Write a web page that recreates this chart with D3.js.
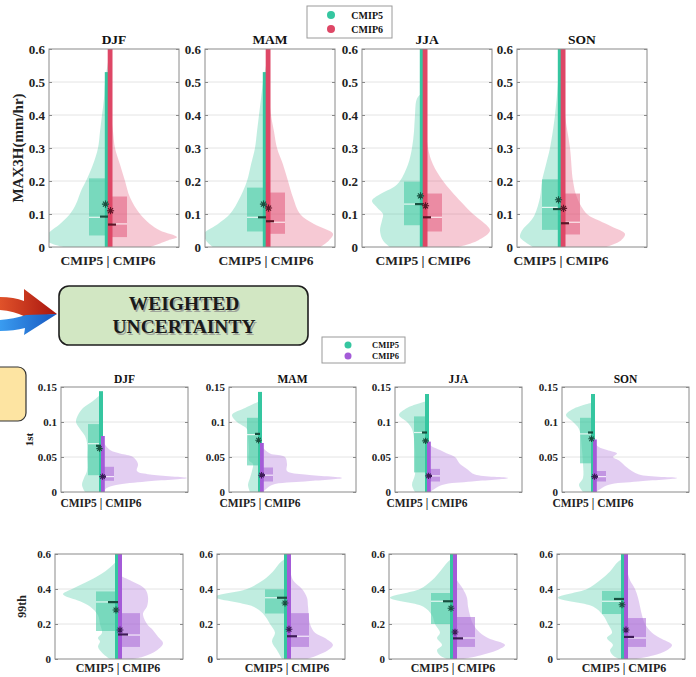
<!DOCTYPE html>
<html>
<head>
<meta charset="utf-8">
<script src="https://cdn.jsdelivr.net/npm/d3@7"></script>
<style>
  body { margin: 0; background: #fff; }
  svg { display: block; }
  text { font-family: "Liberation Serif", "Times New Roman", serif; font-weight: bold; }
</style>
</head>
<body>
<svg id="fig" width="696" height="677"></svg>
<script>
// ---- data ----------------------------------------------------------------
const seasons = ["DJF", "MAM", "JJA", "SON"];
const models = ["CMIP5", "CMIP6"];

// density profiles, [value, density] per season
const max3hCmip5 = [
  [[0,4.5],[0.02,6.2],[0.04,6.0],[0.07,4.8],[0.1,3.8],[0.13,3.2],[0.17,2.7],[0.2,2.2],[0.25,1.5],[0.3,1.0],[0.35,0.8],[0.4,0.6],[0.45,0.4],[0.5,0.3],[0.56,0]],
  [[0,5.3],[0.02,6.0],[0.04,6.2],[0.07,4.8],[0.1,3.6],[0.15,2.6],[0.2,1.9],[0.25,1.5],[0.3,1.1],[0.35,0.9],[0.4,0.7],[0.45,0.5],[0.5,0.3],[0.55,0]],
  [[0,3.3],[0.02,4.0],[0.05,4.3],[0.08,4.1],[0.1,4.0],[0.12,4.6],[0.14,5.1],[0.16,4.3],[0.18,3.0],[0.2,2.3],[0.25,1.5],[0.3,1.1],[0.35,0.9],[0.4,0.8],[0.45,0.6],[0.47,0]],
  [[0,2.8],[0.02,3.8],[0.03,4.1],[0.05,3.9],[0.08,3.0],[0.1,2.6],[0.15,2.1],[0.2,1.9],[0.25,1.5],[0.3,1.1],[0.4,0.6],[0.5,0.3],[0.6,0.1]]
];
const max3hCmip6 = [
  [[0,4.2],[0.02,6.0],[0.03,6.9],[0.05,5.2],[0.07,4.2],[0.1,3.2],[0.15,2.2],[0.2,1.7],[0.25,1.2],[0.3,0.7],[0.35,0.5],[0.4,0.3],[0.5,0.15],[0.6,0.1]],
  [[0,5.4],[0.02,6.3],[0.04,6.7],[0.07,4.8],[0.1,3.4],[0.15,2.7],[0.2,2.2],[0.25,1.7],[0.3,1.1],[0.35,0.8],[0.4,0.5],[0.5,0.2],[0.6,0.1]],
  [[0,3.5],[0.02,5.5],[0.05,6.7],[0.08,5.8],[0.1,5.0],[0.15,3.4],[0.2,2.0],[0.25,1.0],[0.3,0.5],[0.4,0.2],[0.6,0.1]],
  [[0,4.5],[0.02,6.0],[0.04,6.4],[0.06,5.2],[0.08,3.8],[0.1,2.6],[0.15,1.6],[0.2,1.2],[0.3,0.9],[0.4,0.4],[0.5,0.2],[0.6,0.1]]
];
const p1Cmip5 = [
  [[0,1.6],[0.01,1.9],[0.02,1.7],[0.03,1.4],[0.05,1.4],[0.07,1.4],[0.08,1.6],[0.09,2.1],[0.1,2.5],[0.11,2.3],[0.12,1.8],[0.13,0.8],[0.14,0]],
  [[0,1.0],[0.01,1.2],[0.02,1.0],[0.03,0.8],[0.04,0.7],[0.045,1.1],[0.06,1.1],[0.08,1.2],[0.09,1.3],[0.1,2.3],[0.11,2.8],[0.12,1.5],[0.13,0]],
  [[0,1.2],[0.01,1.5],[0.025,1.2],[0.04,1.2],[0.06,1.2],[0.09,1.5],[0.1,2.0],[0.11,2.8],[0.12,2.0],[0.13,0]],
  [[0,1.0],[0.01,1.4],[0.02,1.0],[0.04,1.0],[0.06,1.1],[0.09,1.4],[0.1,2.0],[0.11,2.7],[0.12,1.8],[0.128,0]]
];
const p1Cmip6 = [
  [[0,0.3],[0.005,0.5],[0.01,1.5],[0.015,4.5],[0.02,8.6],[0.025,4.9],[0.03,3.6],[0.04,3.7],[0.05,3.2],[0.055,1.9],[0.06,0.9],[0.07,0.3],[0.08,0]],
  [[0,0.3],[0.01,1.2],[0.015,4.5],[0.02,8.2],[0.025,4.5],[0.03,2.7],[0.04,2.7],[0.05,2.5],[0.055,1.0],[0.065,0.2],[0.07,0]],
  [[0,0.3],[0.01,1.5],[0.015,4.5],[0.02,8.1],[0.025,4.8],[0.033,4.0],[0.04,3.3],[0.05,2.8],[0.055,2.0],[0.06,1.3],[0.065,0.5],[0.072,0]],
  [[0,0.3],[0.01,1.5],[0.015,4.5],[0.02,8.4],[0.025,4.6],[0.035,3.4],[0.045,2.6],[0.05,2.0],[0.055,2.4],[0.06,1.4],[0.065,0.5],[0.075,0]]
];
const p99Cmip5 = [
  [[0,0.8],[0.03,1.5],[0.07,2.0],[0.1,1.8],[0.12,2.0],[0.15,1.6],[0.2,1.8],[0.25,2.0],[0.3,2.8],[0.33,3.8],[0.37,5.5],[0.4,4.6],[0.45,2.8],[0.5,1.3],[0.55,0.3],[0.57,0]],
  [[0,0.5],[0.05,1.0],[0.1,1.5],[0.15,1.2],[0.2,1.7],[0.26,2.4],[0.3,3.4],[0.355,7.2],[0.4,4.0],[0.45,2.4],[0.5,1.4],[0.55,0.7],[0.58,0]],
  [[0,0.6],[0.02,1.3],[0.05,1.6],[0.08,1.1],[0.12,1.6],[0.15,1.3],[0.2,1.8],[0.25,2.1],[0.3,3.0],[0.35,6.3],[0.4,3.3],[0.45,2.1],[0.5,1.3],[0.55,0.6],[0.58,0]],
  [[0,0.5],[0.02,1.1],[0.05,1.4],[0.08,1.1],[0.12,1.7],[0.15,1.2],[0.2,1.6],[0.25,2.1],[0.3,3.1],[0.35,6.6],[0.4,3.7],[0.45,2.4],[0.5,1.4],[0.55,0.7],[0.58,0]]
];
const p99Cmip6 = [
  [[0,1.5],[0.013,2.5],[0.05,3.9],[0.09,4.5],[0.127,4.0],[0.165,3.5],[0.2,2.9],[0.26,2.5],[0.3,2.9],[0.355,3.0],[0.4,2.7],[0.45,1.2],[0.48,0]],
  [[0,2.0],[0.02,3.0],[0.05,4.1],[0.08,4.6],[0.12,3.8],[0.15,2.8],[0.2,2.3],[0.3,2.1],[0.35,2.0],[0.4,1.5],[0.45,0.6],[0.5,0.3],[0.52,0]],
  [[0,1.0],[0.02,2.7],[0.05,4.4],[0.08,5.2],[0.12,3.5],[0.15,2.7],[0.2,2.0],[0.25,1.7],[0.3,1.5],[0.35,1.4],[0.4,1.0],[0.45,0.4],[0.5,0]],
  [[0,1.2],[0.02,2.9],[0.05,4.3],[0.08,4.8],[0.12,3.6],[0.15,2.8],[0.2,2.1],[0.25,1.8],[0.3,1.6],[0.35,1.4],[0.4,1.1],[0.45,0.6],[0.5,0.3],[0.52,0]]
];

// summary stats: [q1, median, q3, weighted mean, mean, range top]
const max3hStats5 = [[0.035,0.09,0.208,0.092,0.13,0.53],[0.047,0.09,0.18,0.09,0.13,0.53],[0.066,0.13,0.198,0.13,0.155,0.6],[0.052,0.12,0.205,0.115,0.143,0.6]];
const max3hStats6 = [[0.03,0.07,0.153,0.068,0.11,0.6],[0.04,0.075,0.165,0.078,0.118,0.6],[0.047,0.09,0.162,0.09,0.125,0.6],[0.038,0.075,0.162,0.072,0.117,0.6]];
const p1Stats5 = [[0.024,0.069,0.097,0.066,0.062,0.144],[0.038,0.082,0.106,0.083,0.074,0.143],[0.028,0.085,0.108,0.085,0.073,0.14],[0.041,0.083,0.106,0.085,0.076,0.14]];
const p1Stats6 = [[0.016,0.022,0.036,0.022,0.022,0.08],[0.015,0.024,0.035,0.024,0.024,0.07],[0.015,0.023,0.033,0.023,0.023,0.072],[0.015,0.022,0.03,0.022,0.022,0.075]];
const p99Stats5 = [[0.16,0.326,0.386,0.325,0.28,0.6],[0.26,0.35,0.398,0.35,0.32,0.6],[0.2,0.33,0.377,0.33,0.29,0.6],[0.257,0.33,0.389,0.343,0.31,0.6]];
const p99Stats6 = [[0.069,0.137,0.262,0.14,0.166,0.6],[0.069,0.13,0.262,0.13,0.17,0.6],[0.069,0.12,0.24,0.118,0.154,0.6],[0.069,0.12,0.234,0.126,0.166,0.6]];

// x limits (density units) per panel
const max3hXlims = [[-5.9,7.1],[-6.1,6.9],[-6.1,6.9],[-4.4,8.6]];
const p1Xlims = [[-4.0,8.7],[-3.1,9.6],[-3.2,9.5],[-3.1,9.6]];
const p99Xlims = [[-6.3,6.5],[-7.0,5.8],[-6.4,6.4],[-6.7,6.1]];

const max3hTicks = [0, 0.1, 0.2, 0.3, 0.4, 0.5, 0.6];
const p1Ticks = [0, 0.05, 0.1, 0.15];
const p99Ticks = [0, 0.2, 0.4, 0.6];

// ---- colours -------------------------------------------------------------
const green = { line: "#35c6a0", fill: "#3cc8a0", dark: "#17503f" };
const red = { line: "#de4766", fill: "#e2577a", dark: "#5c1526" };
const purple = { line: "#a45bd8", fill: "#a866d6", dark: "#3d1a57" };

const svg = d3.select("#fig");
const defs = svg.append("defs");

// ---- a row of split violins ------------------------------------------------
function drawRow(row) {
  row.lefts.forEach((left, i) => {
    const x = d3.scaleLinear().domain(row.xlims[i]).range([left, left + row.width]);
    const y = d3.scaleLinear().domain([0, row.ymax]).range([row.bottom, row.top]);
    const x0 = x(0);
    const g = svg.append("g");
    const clipId = `clip-${row.id}-${i}`;
    defs.append("clipPath").attr("id", clipId)
      .append("rect")
      .attr("x", left).attr("y", row.top)
      .attr("width", row.width).attr("height", row.bottom - row.top);

    // grid
    g.append("g").selectAll("line")
      .data(row.ticks.filter(t => t > 0 && t < row.ymax))
      .enter().append("line")
      .attr("x1", left).attr("x2", left + row.width)
      .attr("y1", d => y(d)).attr("y2", d => y(d))
      .attr("stroke", "#e4e4e4").attr("stroke-width", 1);

    const body = g.append("g").attr("clip-path", `url(#${clipId})`);
    const sides = [
      { dens: row.dens5[i], st: row.stats5[i], col: row.c5, dir: -1 },
      { dens: row.dens6[i], st: row.stats6[i], col: row.c6, dir: 1 }
    ];

    // violins
    sides.forEach(s => {
      const area = d3.area()
        .y(d => y(d[0]))
        .x0(x0)
        .x1(d => x(s.dir * d[1]))
        .curve(d3.curveCatmullRom.alpha(0.5));
      body.append("path")
        .attr("d", area(s.dens))
        .attr("fill", s.col.fill)
        .attr("fill-opacity", 0.32);
    });

    // boxes + median
    sides.forEach(s => {
      const bx = s.dir < 0 ? x(-row.boxW) : x0;
      const bw = x(row.boxW) - x0;
      body.append("rect")
        .attr("x", bx).attr("width", bw)
        .attr("y", y(s.st[2])).attr("height", y(s.st[0]) - y(s.st[2]))
        .attr("fill", s.col.fill).attr("fill-opacity", 0.55);
      body.append("line")
        .attr("x1", bx).attr("x2", bx + bw)
        .attr("y1", y(s.st[1])).attr("y2", y(s.st[1]))
        .attr("stroke", "#fff").attr("stroke-opacity", 0.8).attr("stroke-width", 1.2);
    });

    // range lines
    body.append("rect")
      .attr("x", x0 + row.line5[0]).attr("width", row.line5[1])
      .attr("y", y(sides[0].st[5])).attr("height", y(0) - y(sides[0].st[5]))
      .attr("fill", row.c5.line);
    body.append("rect")
      .attr("x", x0 + row.line6[0]).attr("width", row.line6[1])
      .attr("y", y(sides[1].st[5])).attr("height", y(0) - y(sides[1].st[5]))
      .attr("fill", row.c6.line);

    // mean (asterisk) and weighted mean (dash)
    sides.forEach(s => {
      const cx = x0 + s.dir * row.starOff;
      const cy = y(s.st[4]);
      const r = row.starR;
      const a = r * Math.SQRT1_2;
      body.append("path")
        .attr("d", `M${cx - r},${cy}H${cx + r}M${cx},${cy - r}V${cy + r}` +
                   `M${cx - a},${cy - a}L${cx + a},${cy + a}M${cx - a},${cy + a}L${cx + a},${cy - a}`)
        .attr("stroke", s.col.dark).attr("stroke-width", 1.1).attr("fill", "none");
      const dy = y(s.st[3]);
      body.append("line")
        .attr("x1", x0).attr("x2", x0 + s.dir * row.dashW)
        .attr("y1", dy).attr("y2", dy)
        .attr("stroke", s.col.dark).attr("stroke-width", 2.2);
    });

    // frame and axes
    g.append("rect")
      .attr("x", left).attr("y", row.top)
      .attr("width", row.width).attr("height", row.bottom - row.top)
      .attr("fill", "none").attr("stroke", "#8a8a8a").attr("stroke-width", 1);

    const fmt = d => d === 0 ? "0" : String(+d.toFixed(2));
    const ax = g.append("g")
      .attr("transform", `translate(${left},0)`)
      .call(d3.axisLeft(y).tickValues(row.ticks).tickFormat(fmt).tickSize(-3).tickPadding(4));
    ax.select(".domain").remove();
    ax.selectAll("line").attr("stroke", "#8a8a8a");
    ax.selectAll("text")
      .attr("fill", "#222")
      .style("font-size", row.tickFont + "px");
    const axR = g.append("g")
      .attr("transform", `translate(${left + row.width},0)`)
      .call(d3.axisRight(y).tickValues(row.ticks).tickFormat("").tickSize(-3));
    axR.select(".domain").remove();
    axR.selectAll("line").attr("stroke", "#8a8a8a");

    if (row.titles) {
      g.append("text")
        .attr("x", left + row.width / 2).attr("y", row.titleY)
        .attr("text-anchor", "middle")
        .style("font-size", row.titleFont + "px")
        .attr("fill", "#111")
        .text(seasons[i]);
    }
    g.append("text")
      .attr("x", x0).attr("y", row.xlabelY)
      .attr("text-anchor", "middle")
      .style("font-size", row.xlabelFont + "px")
      .attr("fill", "#222")
      .text(`${models[0]} | ${models[1]}`);
  });

  svg.append("text")
    .attr("transform", `translate(${row.ylabelX},${(row.top + row.bottom) / 2}) rotate(-90)`)
    .attr("text-anchor", "middle")
    .attr("dy", "0.35em")
    .style("font-size", row.ylabelFont + "px")
    .attr("fill", "#222")
    .text(row.ylabel);
}

drawRow({
  id: "max3h", lefts: [49, 205, 362, 517], width: 130, top: 49, bottom: 247,
  ymax: 0.6, ticks: max3hTicks, xlims: max3hXlims,
  dens5: max3hCmip5, dens6: max3hCmip6, stats5: max3hStats5, stats6: max3hStats6,
  c5: green, c6: red, boxW: 1.9, line5: [-3.2, 3.2], line6: [-0.3, 4.8],
  starOff: 2.5, starR: 3.6, dashW: 8,
  tickFont: 13, titles: true, titleY: 44, titleFont: 13.5,
  xlabelY: 265, xlabelFont: 13.5, ylabel: "MAX3H(mm/hr)", ylabelX: 18, ylabelFont: 15
});

drawRow({
  id: "p1", lefts: [61, 229, 395, 562], width: 127, top: 387, bottom: 492,
  ymax: 0.15, ticks: p1Ticks, xlims: p1Xlims,
  dens5: p1Cmip5, dens6: p1Cmip6, stats5: p1Stats5, stats6: p1Stats6,
  c5: green, c6: purple, boxW: 1.3, line5: [-2, 4], line6: [0, 3.8],
  starOff: 1.5, starR: 3.2, dashW: 5,
  tickFont: 11, titles: true, titleY: 383, titleFont: 11.5,
  xlabelY: 507, xlabelFont: 11.5, ylabel: "1st", ylabelX: 29, ylabelFont: 11
});

drawRow({
  id: "p99", lefts: [55, 217, 389, 557], width: 128, top: 554, bottom: 659,
  ymax: 0.6, ticks: p99Ticks, xlims: p99Xlims,
  dens5: p99Cmip5, dens6: p99Cmip6, stats5: p99Stats5, stats6: p99Stats6,
  c5: green, c6: purple, boxW: 2.2, line5: [-3, 3], line6: [0, 4],
  starOff: 2, starR: 3.4, dashW: 10,
  tickFont: 11, titles: false,
  xlabelY: 672, xlabelFont: 12, ylabel: "99th", ylabelX: 22, ylabelFont: 12
});

// ---- legends ---------------------------------------------------------------
function legend(x, y, w, h, colors, dotX, rows, textX, font, r) {
  const lg = svg.append("g");
  lg.append("rect").attr("x", x).attr("y", y).attr("width", w).attr("height", h)
    .attr("fill", "#fff").attr("stroke", "#9a9a9a").attr("stroke-width", 1);
  models.forEach((m, k) => {
    lg.append("circle").attr("cx", dotX).attr("cy", rows[k]).attr("r", r)
      .attr("fill", colors[k].line);
    lg.append("text").attr("x", textX).attr("y", rows[k]).attr("dy", "0.35em")
      .attr("text-anchor", "end").style("font-size", font + "px").attr("fill", "#111")
      .text(m);
  });
}
legend(307, 6, 85, 32, [green, red], 331, [15, 29], 383, 10, 4);
legend(322, 337, 83, 26, [green, purple], 348, [345, 356], 399, 8.5, 3.5);

// ---- middle annotation ---------------------------------------------------
const gr = defs.append("linearGradient").attr("id", "gRed");
gr.append("stop").attr("offset", "0%").attr("stop-color", "#e0522a");
gr.append("stop").attr("offset", "100%").attr("stop-color", "#a8150f");
const gb = defs.append("linearGradient").attr("id", "gBlue");
gb.append("stop").attr("offset", "0%").attr("stop-color", "#3a9cf0");
gb.append("stop").attr("offset", "100%").attr("stop-color", "#1757c0");

svg.append("path")
  .attr("d", "M0,297 Q14,297 24,301 L24,289 L57,314 L26,317 Q14,311 0,310 Z")
  .attr("fill", "url(#gRed)");
svg.append("path")
  .attr("d", "M0,320 Q14,319 26,315 L57,314 L24,335 L25,328 Q14,331 0,331 Z")
  .attr("fill", "url(#gBlue)");

svg.append("rect")
  .attr("x", -12).attr("y", 367).attr("width", 38).attr("height", 54).attr("rx", 8)
  .attr("fill", "#fde4a2").attr("stroke", "#333").attr("stroke-width", 1.2);

svg.append("rect")
  .attr("x", 59).attr("y", 286).attr("width", 249).attr("height", 59).attr("rx", 10)
  .attr("fill", "#d2e7c3").attr("stroke", "#1e1e1e").attr("stroke-width", 1.6);
["WEIGHTED", "UNCERTAINTY"].forEach((t, k) => {
  const ty = 310 + k * 23;
  svg.append("text").attr("x", 185.5).attr("y", ty + 1.5).attr("text-anchor", "middle")
    .style("font-size", "19.5px").attr("fill", "#8a8a8a").attr("opacity", 0.7).text(t);
  svg.append("text").attr("x", 184).attr("y", ty).attr("text-anchor", "middle")
    .style("font-size", "19.5px").attr("fill", "#1a1a1a").text(t);
});
</script>
</body>
</html>
